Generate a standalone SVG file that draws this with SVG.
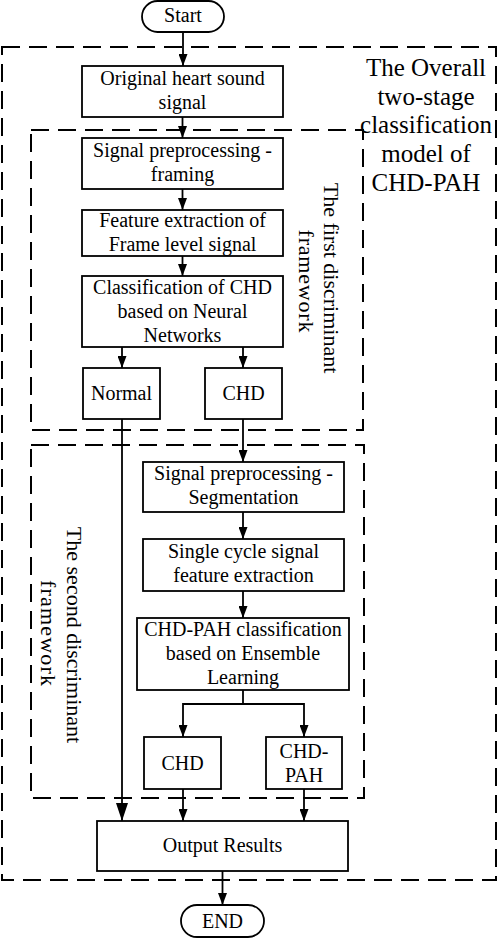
<svg xmlns="http://www.w3.org/2000/svg" width="498" height="938" viewBox="0 0 498 938">
<style>
  .box{fill:#fff;stroke:#000;stroke-width:1.8}
  .dash{fill:none;stroke:#000;stroke-width:2;stroke-dasharray:18 9}
  .ln{fill:none;stroke:#000;stroke-width:1.8}
  text{font-family:"Liberation Serif","Times New Roman",serif;fill:#000}
  .t{font-size:20px;text-anchor:middle}
  .big{font-size:25px;text-anchor:middle}
  .rot{font-size:22px;text-anchor:middle}
</style>
<defs>
  <marker id="ah" viewBox="0 0 12 9" refX="12" refY="4.5" markerWidth="12" markerHeight="9" markerUnits="userSpaceOnUse" orient="auto">
    <path d="M0,0 L12,4.5 L0,9 Z" fill="#000"/>
  </marker>
  <marker id="ahb" viewBox="0 0 18 12" refX="18" refY="6" markerWidth="18" markerHeight="12" markerUnits="userSpaceOnUse" orient="auto">
    <path d="M0,0 L18,6 L0,12 Z" fill="#000"/>
  </marker>
</defs>
<rect width="498" height="938" fill="#fff"/>

<g id="frames">
  <rect id="outer" class="dash" x="2" y="47" width="494" height="833"/>
  <rect id="first" class="dash" x="31" y="130" width="332" height="300"/>
  <rect id="second" class="dash" x="31" y="445" width="333" height="353"/>
  <g id="outer-label">
    <text class="big" x="426" y="76">The Overall</text>
    <text class="big" x="426" y="104.7">two-stage</text>
    <text class="big" x="426" y="133.4">classification</text>
    <text class="big" x="426" y="162">model of</text>
    <text class="big" x="426" y="190.7">CHD-PAH</text>
  </g>
  <g id="first-label">
    <text class="rot" transform="translate(324,278) rotate(90)">The first discriminant</text>
    <text class="rot" transform="translate(299,281) rotate(90)" textLength="103" lengthAdjust="spacing">framework</text>
  </g>
  <g id="second-label">
    <text class="rot" transform="translate(67,635) rotate(90)">The second discriminant</text>
    <text class="rot" transform="translate(41,633) rotate(90)" textLength="106" lengthAdjust="spacing">framework</text>
  </g>
</g>

<g id="connectors">
  <line class="ln" x1="183" y1="32" x2="183" y2="66" marker-end="url(#ah)"/>
  <line class="ln" x1="182.5" y1="117" x2="182.5" y2="138" marker-end="url(#ah)"/>
  <line class="ln" x1="182.5" y1="189" x2="182.5" y2="210" marker-end="url(#ah)"/>
  <line class="ln" x1="182.5" y1="256" x2="182.5" y2="276" marker-end="url(#ah)"/>
  <line class="ln" x1="122" y1="347" x2="122" y2="368" marker-end="url(#ah)"/>
  <line class="ln" x1="243" y1="347" x2="243" y2="368" marker-end="url(#ah)"/>
  <line class="ln" x1="243" y1="419" x2="243" y2="462" marker-end="url(#ah)"/>
  <line class="ln" x1="243" y1="512" x2="243" y2="539" marker-end="url(#ah)"/>
  <line class="ln" x1="243" y1="591" x2="243" y2="618" marker-end="url(#ah)"/>
  <polyline class="ln" points="243,690 243,704 183,704 183,737" marker-end="url(#ah)"/>
  <polyline class="ln" points="243,704 304,704 304,737" marker-end="url(#ah)"/>
  <line class="ln" x1="122" y1="419" x2="122" y2="821" marker-end="url(#ahb)"/>
  <line class="ln" x1="183" y1="789" x2="183" y2="821" marker-end="url(#ah)"/>
  <line class="ln" x1="304" y1="789" x2="304" y2="821" marker-end="url(#ah)"/>
  <line class="ln" x1="222.5" y1="871" x2="222.5" y2="905" marker-end="url(#ah)"/>
</g>

<g id="start">
  <rect class="box" x="142" y="1" width="82" height="31" rx="15.5"/>
  <text class="t" x="183" y="22">Start</text>
</g>
<g id="original">
  <rect class="box" x="82" y="66" width="201" height="51"/>
  <text class="t" x="182.5" y="85">Original heart sound</text>
  <text class="t" x="182.5" y="109">signal</text>
</g>
<g id="framing">
  <rect class="box" x="82" y="138" width="201" height="51"/>
  <text class="t" x="182.5" y="157">Signal preprocessing -</text>
  <text class="t" x="182.5" y="181">framing</text>
</g>
<g id="feature1">
  <rect class="box" x="82" y="210" width="201" height="46"/>
  <text class="t" x="182.5" y="227">Feature extraction of</text>
  <text class="t" x="182.5" y="251">Frame level signal</text>
</g>
<g id="classify1">
  <rect class="box" x="82" y="276" width="201" height="71"/>
  <text class="t" x="182.5" y="293.5">Classification of CHD</text>
  <text class="t" x="182.5" y="317.5">based on Neural</text>
  <text class="t" x="182.5" y="341.5">Networks</text>
</g>
<g id="normal">
  <rect class="box" x="83" y="368" width="77" height="51"/>
  <text class="t" x="121.5" y="400">Normal</text>
</g>
<g id="chd1">
  <rect class="box" x="205" y="368" width="77" height="51"/>
  <text class="t" x="243.5" y="400">CHD</text>
</g>
<g id="segmentation">
  <rect class="box" x="143" y="462" width="201" height="50"/>
  <text class="t" x="243.5" y="480">Signal preprocessing -</text>
  <text class="t" x="243.5" y="504">Segmentation</text>
</g>
<g id="feature2">
  <rect class="box" x="143" y="539" width="201" height="52"/>
  <text class="t" x="243.5" y="558">Single cycle signal</text>
  <text class="t" x="243.5" y="582">feature extraction</text>
</g>
<g id="classify2">
  <rect class="box" x="137" y="618" width="212" height="72"/>
  <text class="t" x="243" y="636">CHD-PAH classification</text>
  <text class="t" x="243" y="660">based on Ensemble</text>
  <text class="t" x="243" y="684">Learning</text>
</g>
<g id="chd2">
  <rect class="box" x="144" y="737" width="77" height="52"/>
  <text class="t" x="182.5" y="770">CHD</text>
</g>
<g id="chdpah">
  <rect class="box" x="266" y="737" width="76" height="52"/>
  <text class="t" x="304" y="758">CHD-</text>
  <text class="t" x="304" y="782">PAH</text>
</g>
<g id="output">
  <rect class="box" x="97" y="821" width="251" height="50"/>
  <text class="t" x="222.5" y="852">Output Results</text>
</g>
<g id="end">
  <rect class="box" x="181" y="905" width="83" height="32" rx="16"/>
  <text class="t" x="222.5" y="928">END</text>
</g>
</svg>
